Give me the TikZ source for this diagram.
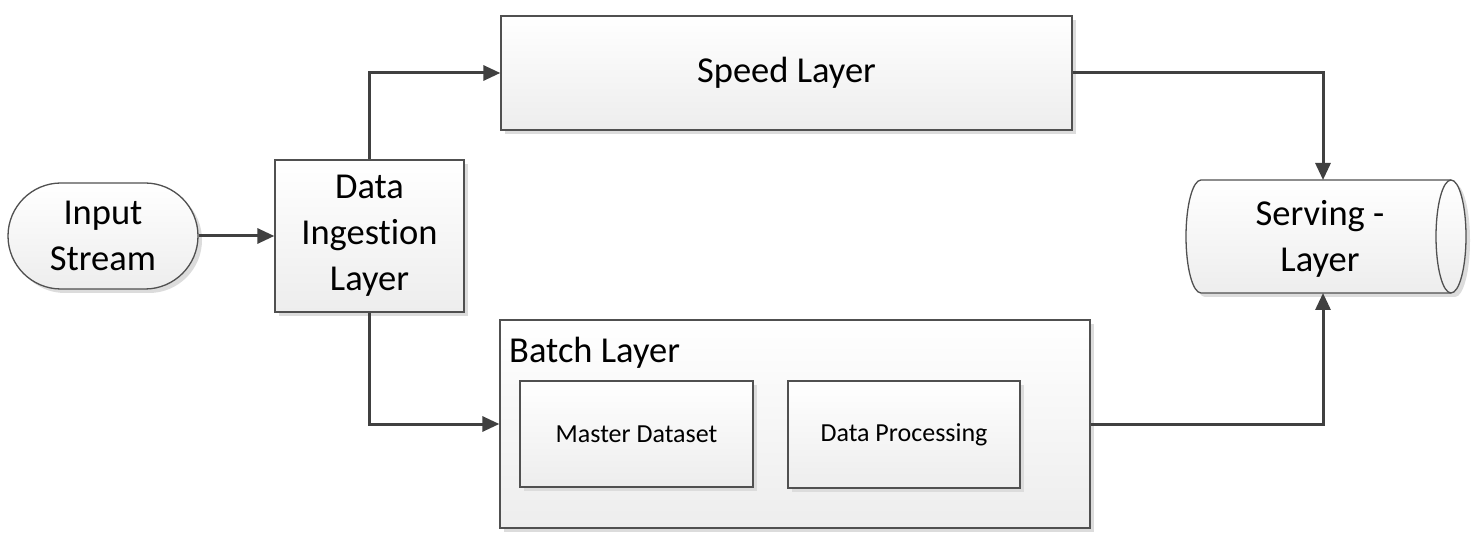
\documentclass[tikz,border=0pt]{standalone}
\usepackage{fontspec}
\setmainfont{Carlito}[Ligatures=NoCommon]
\usetikzlibrary{arrows.meta,shapes.misc,shadows,positioning}
\definecolor{linec}{HTML}{404040}
\definecolor{edgec}{HTML}{505050}
\definecolor{shadec}{HTML}{EDEDED}
\definecolor{shadowc}{HTML}{DCDCDC}
\begin{document}
\begin{tikzpicture}[x=1pt,y=1pt,
  boxstyle/.style={draw=edgec, line width=1.3pt, top color=white, bottom color=shadec,
    drop shadow={shadow xshift=4pt, shadow yshift=-4pt, fill=shadowc, opacity=1},
    align=center, inner sep=0pt},
  bigtext/.style={font=\fontsize{36.5}{46}\selectfont},
  smalltext/.style={font=\fontsize{26}{30}\selectfont},
  conn/.style={draw=linec, line width=3pt, -{Triangle[length=17pt,width=15pt]}},
]
\useasboundingbox (0,0) rectangle (1480,544);
\fill[white] (0,0) rectangle (1480,544);

\node[boxstyle, bigtext, rounded rectangle, minimum width=190pt, minimum height=106pt] (input) at (103,308) {Input\\Stream};
\node[boxstyle, bigtext, rectangle, minimum width=189pt, minimum height=152pt] (ingest) at (369.5,308) {Data\\Ingestion\\Layer};
\node[boxstyle, bigtext, rectangle, minimum width=571pt, minimum height=114pt] (speed) at (786.5,471) {Speed Layer};
\node[boxstyle, rectangle, minimum width=590pt, minimum height=208pt] (batch) at (795,120) {};
\node[bigtext, anchor=base west, inner sep=0pt] (batchlabel) at (509,182) {Batch Layer};
\node[boxstyle, smalltext, rectangle, minimum width=233pt, minimum height=106pt] (master) at (636.5,110) {Master Dataset};
\node[boxstyle, smalltext, rectangle, minimum width=232pt, minimum height=107pt] (proc) at (904,109.5) {Data Processing};

% Serving layer cylinder
\node[minimum width=280pt, minimum height=113pt, inner sep=0pt] (serve) at (1326,307.5) {};
\path[draw=edgec, line width=1.3pt, top color=white, bottom color=shadec,
   drop shadow={shadow xshift=4pt, shadow yshift=-4pt, fill=shadowc, opacity=1}]
  (1201,364) -- (1451,364) arc[start angle=90, end angle=-90, x radius=15, y radius=56.5]
  -- (1201,251) arc[start angle=270, end angle=90, x radius=15, y radius=56.5] -- cycle;
\draw[edgec, line width=1.3pt] (1451,364) arc[start angle=90, end angle=270, x radius=15, y radius=56.5];
\node[bigtext, align=center, inner sep=0pt] (servetext) at ([xshift=-6pt,yshift=-2pt]serve.center) {Serving -\\Layer};

\coordinate (svtop) at (1323,364);
\coordinate (svbot) at (1323,251);

\draw[conn] (input.east) -- (ingest.west);
\draw[conn] (ingest.north) |- (speed.west);
\draw[conn] (ingest.south) |- (batch.west);
\draw[conn] (speed.east) -| (svtop);
\draw[conn] (batch.east) -| (svbot);
\end{tikzpicture}
\end{document}
